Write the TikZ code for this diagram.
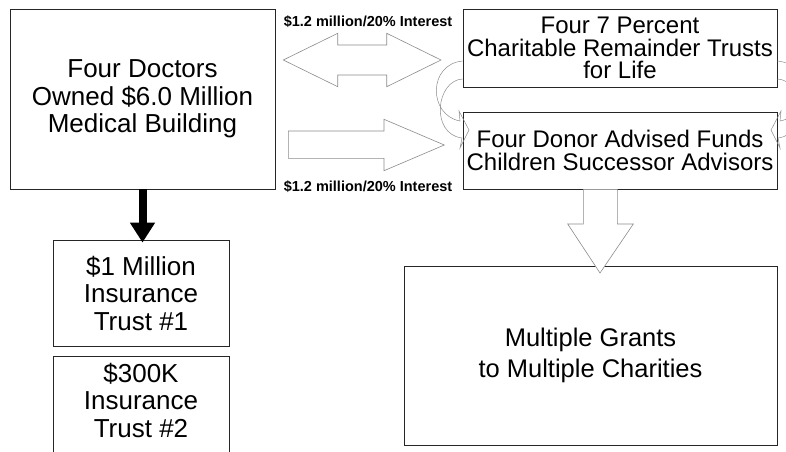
\documentclass[tikz,border=0pt]{standalone}
\usepackage{fontspec}
\setmainfont{Liberation Sans}
\usetikzlibrary{arrows.meta}
\begin{document}
\begin{tikzpicture}[x=1pt,y=-1pt,
  box/.style={draw=black!85, line width=0.9pt, inner sep=0pt, align=center},
  bigtext/.style={font=\fontsize{26}{27.5}\selectfont},
  midtext/.style={font=\fontsize{24}{22.5}\selectfont},
  blockarrow/.style={draw=black!45, line width=0.6pt, fill=white, line join=miter},
  curvearrow/.style={draw=black!45, line width=0.5pt, line join=miter},
  amount/.style={font=\bfseries\fontsize{14.5}{16}\selectfont, inner sep=0pt},
  pusharrow/.style={line width=8pt, -{Triangle[width=24pt,length=20pt]}, shorten >=-3pt}
]
\useasboundingbox (0,0) rectangle (786,451);
\clip (0,0) rectangle (786,451);

% boxes
\node[box, bigtext, minimum width=265pt, minimum height=180pt] (doctors) at (142.5,99)
  {Four Doctors\\Owned \$6.0 Million\\Medical Building};
\node[box, midtext, minimum width=314pt, minimum height=78pt] (crt) at (620,48)
  {Four 7 Percent\\Charitable Remainder Trusts\\for Life};
\node[box, midtext, minimum width=314pt, minimum height=77pt] (daf) at (620,150.5)
  {Four Donor Advised Funds\\Children Successor Advisors};
\node[box, bigtext, minimum width=176pt, minimum height=106pt] (trust1) at (141,293)
  {\$1 Million\\Insurance\\Trust \#1};
\node[box, minimum width=176pt, minimum height=114pt] (trust2) at (141,413) {};
\node[bigtext, align=center, inner sep=0pt] (trust2text) at (141,400)
  {\$300K\\Insurance\\Trust \#2};
\node[box, font=\fontsize{25.5}{31.5}\selectfont, minimum width=373pt, minimum height=179pt] (grants) at (590.5,355.5)
  {Multiple Grants\\to Multiple Charities};

% amount labels
\node[amount] (lbltop) at (368,22) {\$1.2 million/20\% Interest};
\node[amount] (lblbot) at (368,187) {\$1.2 million/20\% Interest};

% doctors to first insurance trust
\draw[pusharrow] (doctors.south) -- (doctors.south |- trust1.north);

% double-headed block arrow
\draw[blockarrow] (283.3,60) -- (337.7,33.3) -- (337.7,45) -- (386.7,45) -- (386.7,33.3)
  -- (441,60) -- (386.7,86.7) -- (386.7,75) -- (337.7,75) -- (337.7,86.7) -- cycle;

% right block arrow
\draw[blockarrow] (288.3,131) -- (384,131) -- (384,119.3) -- (444.3,145) -- (384,170.7)
  -- (384,158.3) -- (288.3,158.3) -- cycle;

% down block arrow into the grants box
\draw[blockarrow] (583.3,189.3) -- (617.3,189.3) -- (617.3,224) -- (633.3,224) -- (600,273)
  -- (567.7,224) -- (583.3,224) -- cycle;

% curved arrow, left side
\draw[curvearrow] (462.7,61) .. controls (428,64) and (428,115) .. (460,121)
  -- (459,111) -- (469,130) -- (460,148) -- (462,138)
  .. controls (430,134) and (436,80) .. (462.7,79);

% curved arrow, right side
\draw[curvearrow] (777.3,61) .. controls (812,64) and (812,115) .. (780,121)
  -- (781,111) -- (771,130) -- (780,148) -- (778,138)
  .. controls (810,134) and (804,80) .. (777.3,79);
\end{tikzpicture}
\end{document}
